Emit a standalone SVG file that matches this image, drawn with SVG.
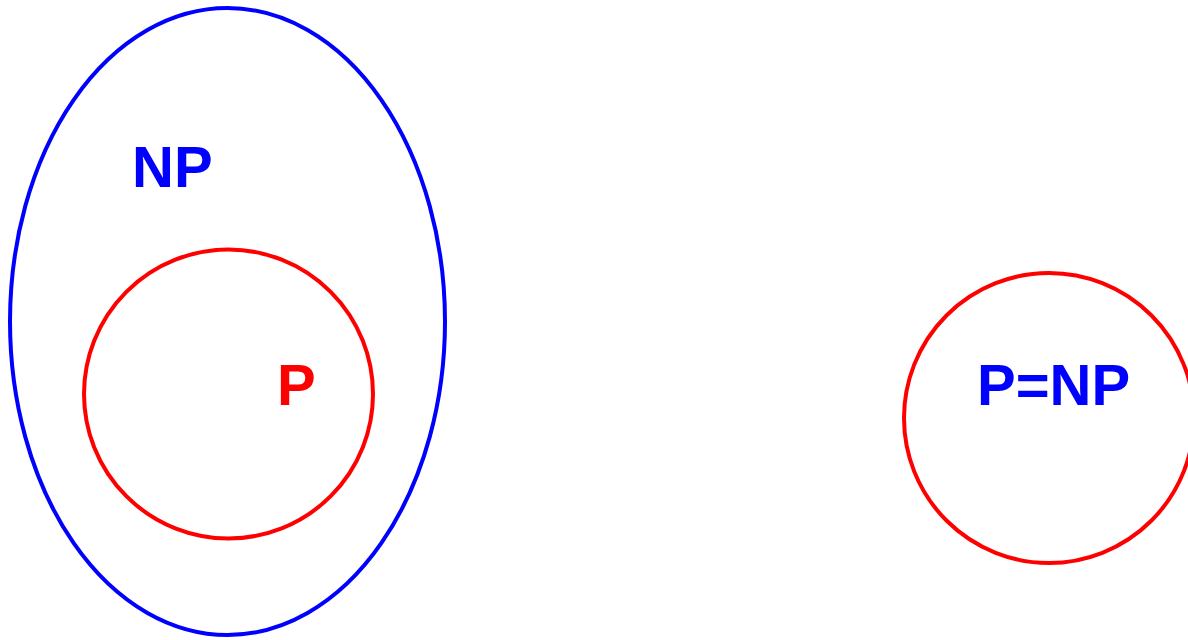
<svg xmlns="http://www.w3.org/2000/svg" width="1188" height="640" viewBox="0 0 1188 640">
<style>
.lbl{font-family:"Liberation Sans",Arial,sans-serif;font-weight:bold;font-size:58px}
.blue{fill:#0000ff}
.red{fill:#ff0000}
.np{fill:none;stroke:#0000ff;stroke-width:4}
.p{fill:none;stroke:#ff0000;stroke-width:4}
</style>
<rect width="1188" height="640" fill="#ffffff"/>
<g id="np-set">
<ellipse class="np" cx="227.5" cy="321.5" rx="217.5" ry="313.5"/>
<text class="lbl blue" x="132" y="187">NP</text>
</g>
<g id="p-set">
<circle class="p" cx="228.5" cy="394" r="144.5"/>
<text class="lbl red" x="277" y="405">P</text>
</g>
<g id="p-eq-np">
<circle class="p" cx="1049" cy="418" r="145"/>
<text class="lbl blue" x="977" y="405">P=NP</text>
</g>
<g id="connectors"></g>
</svg>
